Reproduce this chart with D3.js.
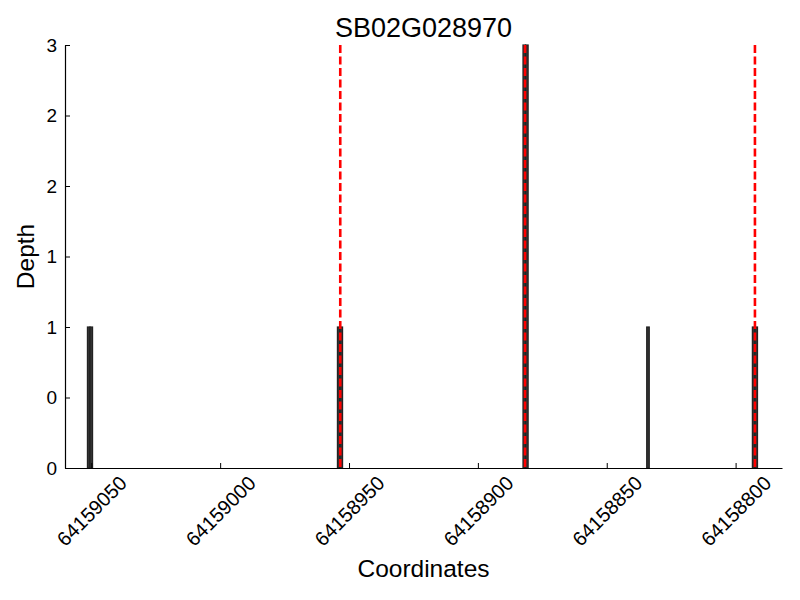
<!DOCTYPE html>
<html>
<head>
<meta charset="utf-8">
<script src="https://cdn.jsdelivr.net/npm/d3@7"></script>
<style>
  body { margin: 0; background: #fff; }
  text { font-family: "Liberation Sans", Arial, sans-serif; fill: #000; }
</style>
</head>
<body>
<svg id="graph" width="800" height="600"></svg>
<script>
const title = "SB02G028970";
const positions = [ 64159051, 64159050, 64158954, 64158953, 64158882, 64158881, 64158834, 64158793, 64158792 ];
const depths = [ 1, 1, 1, 1, 3, 3, 1, 1, 1 ];
const boundaries = [ 64158953.4, 64158881.7, 64158792.5 ];
const xTicks = [ 64159050, 64159000, 64158950, 64158900, 64158850, 64158800 ];
const yTicks = [ 0, 0.5, 1, 1.5, 2, 2.5, 3 ];
const yTickLabels = [ "0", "0", "1", "1", "2", "2", "3" ];

const data = positions.map( ( p, i ) => ( { x: p, y: depths[i] } ) );

const graph = d3.select( "#graph" );
const WIDTH = 800;
const HEIGHT = 600;
const MARGINS = {
  top   : 45,
  right : 18,
  bottom: 132,
  left  : 65,
};

const xRange = d3.scaleLinear()
  .range( [ MARGINS.left, WIDTH - MARGINS.right ] )
  .domain( [ 64159060.2, 64158782 ] );
const yRange = d3.scaleLinear()
  .range( [ HEIGHT - MARGINS.bottom, MARGINS.top ] )
  .domain( [ 0, 3 ] );

const unit = Math.abs( xRange( 1 ) - xRange( 0 ) );

// bars
graph.append( "g" )
  .selectAll( "rect" )
  .data( data )
  .join( "rect" )
  .attr( "x", d => xRange( d.x ) - unit / 2 )
  .attr( "y", d => yRange( d.y ) )
  .attr( "width", unit )
  .attr( "height", d => yRange( 0 ) - yRange( d.y ) )
  .attr( "fill", "#333" )
  .attr( "stroke", "#222" )
  .attr( "stroke-width", 1.2 );

// exon boundaries
graph.append( "g" )
  .selectAll( "line" )
  .data( boundaries )
  .join( "line" )
  .attr( "x1", d => xRange( d ) )
  .attr( "x2", d => xRange( d ) )
  .attr( "y1", yRange( 3 ) )
  .attr( "y2", yRange( 0 ) )
  .attr( "stroke", "red" )
  .attr( "stroke-width", 2.6 )
  .attr( "stroke-dasharray", "8,3.5" );

const xAxis = d3.axisBottom( xRange ).tickValues( xTicks ).tickSizeInner( -5 ).tickSizeOuter( 0 ).tickFormat( "" );
const yAxis = d3.axisLeft( yRange ).tickValues( yTicks ).tickSizeInner( -5 ).tickSizeOuter( 0 )
  .tickFormat( ( d, i ) => yTickLabels[i] );

const gx = graph.append( "g" )
  .attr( "transform", `translate(0,${HEIGHT - MARGINS.bottom})` )
  .call( xAxis );
gx.select( ".domain" ).attr( "stroke", "#000" ).attr( "stroke-width", 1.2 );

gx.selectAll( ".tick" ).append( "text" )
  .attr( "transform", "translate(0,43) rotate(-45)" )
  .attr( "text-anchor", "middle" )
  .attr( "dominant-baseline", "central" )
  .style( "font-size", "20px" )
  .text( d => d );

const gy = graph.append( "g" )
  .attr( "transform", `translate(${MARGINS.left},0)` )
  .call( yAxis );
gy.select( ".domain" ).attr( "stroke", "#000" ).attr( "stroke-width", 1.2 );
gy.selectAll( ".tick text" )
  .attr( "x", -8 )
  .style( "font-size", "19px" )
  .style( "font-family", "'Liberation Sans', Arial, sans-serif" );

graph.append( "text" )
  .attr( "x", ( MARGINS.left + WIDTH - MARGINS.right ) / 2 )
  .attr( "y", 37 )
  .attr( "text-anchor", "middle" )
  .style( "font-size", "27px" )
  .text( title );

graph.append( "text" )
  .attr( "x", ( MARGINS.left + WIDTH - MARGINS.right ) / 2 )
  .attr( "y", 577 )
  .attr( "text-anchor", "middle" )
  .style( "font-size", "24.5px" )
  .text( "Coordinates" );

graph.append( "text" )
  .attr( "transform", `translate(34,${( MARGINS.top + HEIGHT - MARGINS.bottom ) / 2}) rotate(-90)` )
  .attr( "text-anchor", "middle" )
  .style( "font-size", "24.5px" )
  .text( "Depth" );
</script>
</body>
</html>
